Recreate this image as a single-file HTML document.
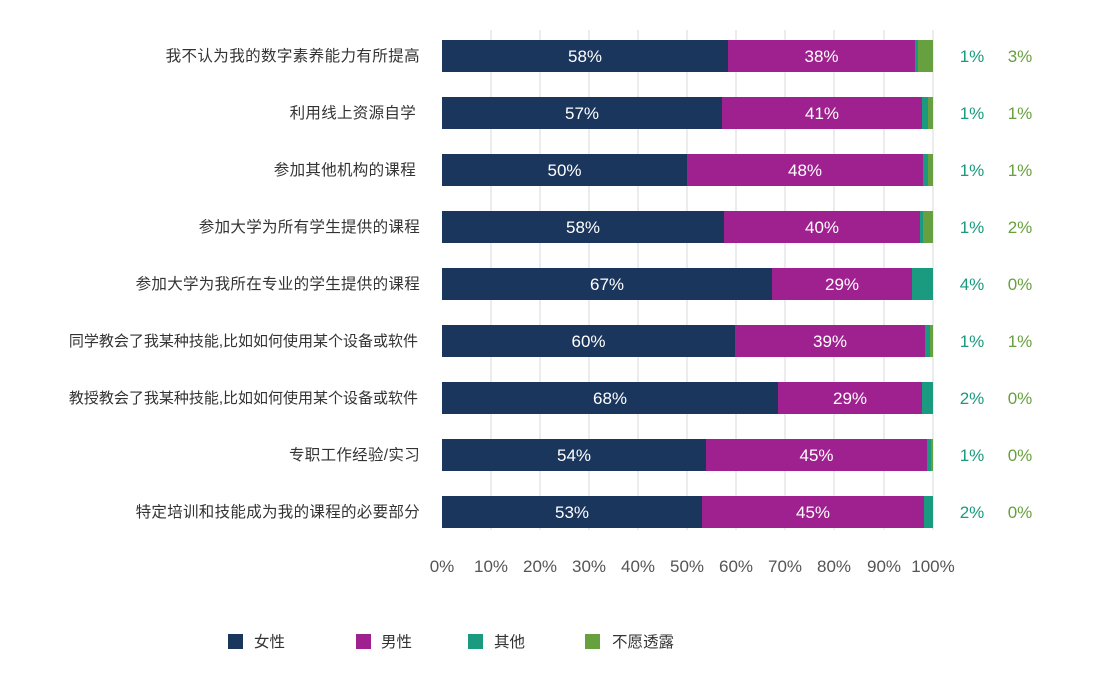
<!DOCTYPE html>
<html><head><meta charset="utf-8"><style>
body{margin:0;background:#fff;width:1097px;height:668px;overflow:hidden;font-family:"Liberation Sans","Noto Sans CJK SC",sans-serif}
svg text{font-family:"Liberation Sans","Noto Sans CJK SC",sans-serif}
</style></head><body>
<svg width="1097" height="668" xmlns="http://www.w3.org/2000/svg">
<g stroke="#d9d9d9" stroke-width="1">
<line x1="491" y1="30" x2="491" y2="530"/><line x1="540" y1="30" x2="540" y2="530"/><line x1="589" y1="30" x2="589" y2="530"/><line x1="638" y1="30" x2="638" y2="530"/><line x1="687" y1="30" x2="687" y2="530"/><line x1="736" y1="30" x2="736" y2="530"/><line x1="785" y1="30" x2="785" y2="530"/><line x1="834" y1="30" x2="834" y2="530"/><line x1="884" y1="30" x2="884" y2="530"/><line x1="933" y1="30" x2="933" y2="530"/>
</g>
<g id="bars"></g>
<g font-size="17" fill="#555" text-anchor="middle">
<text x="442" y="572">0%</text><text x="491" y="572">10%</text><text x="540" y="572">20%</text><text x="589" y="572">30%</text><text x="638" y="572">40%</text><text x="687" y="572">50%</text><text x="736" y="572">60%</text><text x="785" y="572">70%</text><text x="834" y="572">80%</text><text x="884" y="572">90%</text><text x="933" y="572">100%</text>
</g>
<g font-size="15.5" fill="#333">
<rect x="228" y="634" width="15" height="15" fill="#1b365d"/><text x="254" y="647">女性</text>
<rect x="356" y="634" width="15" height="15" fill="#9e218f"/><text x="381" y="647">男性</text>
<rect x="468" y="634" width="15" height="15" fill="#1a9a7e"/><text x="494" y="647">其他</text>
<rect x="585" y="634" width="15" height="15" fill="#67a03e"/><text x="612" y="647">不愿透露</text>
</g>
</svg>
<script>
var rows=[["我不认为我的数字素养能力有所提高",728,915,918,"58%","38%","1%","3%",420,15.5,0.4],
["利用线上资源自学",722,922,928,"57%","41%","1%","1%",416,15.5,0.3],
["参加其他机构的课程",687,923,928,"50%","48%","1%","1%",416,15.5,0.3],
["参加大学为所有学生提供的课程",724,920,923,"58%","40%","1%","2%",420,15.5,0.3],
["参加大学为我所在专业的学生提供的课程",772,912,933,"67%","29%","4%","0%",420,15.5,0.3],
["同学教会了我某种技能,比如如何使用某个设备或软件",735,925,930,"60%","39%","1%","1%",418,15,0],
["教授教会了我某种技能,比如如何使用某个设备或软件",778,922,933,"68%","29%","2%","0%",418,15,0],
["专职工作经验/实习",706,927,931,"54%","45%","1%","0%",420,15.5,0.3],
["特定培训和技能成为我的课程的必要部分",702,924,933,"53%","45%","2%","0%",420,15.5,0.3]];
var s="";
rows.forEach(function(r,i){var y=40+i*57,c=y+16;
s+='<rect x="442" y="'+y+'" width="'+(r[1]-442)+'" height="32" fill="#1b365d"/>';
s+='<rect x="'+r[1]+'" y="'+y+'" width="'+(r[2]-r[1])+'" height="32" fill="#9e218f"/>';
s+='<rect x="'+r[2]+'" y="'+y+'" width="'+(r[3]-r[2])+'" height="32" fill="#1a9a7e"/>';
s+='<rect x="'+r[3]+'" y="'+y+'" width="'+(933-r[3])+'" height="32" fill="#67a03e"/>';
s+='<text x="'+((442+r[1])/2)+'" y="'+(c+6)+'" font-size="17" fill="#fff" text-anchor="middle">'+r[4]+'</text>';
s+='<text x="'+((r[1]+r[2])/2)+'" y="'+(c+6)+'" font-size="17" fill="#fff" text-anchor="middle">'+r[5]+'</text>';
s+='<text x="972" y="'+(c+6)+'" font-size="17" fill="#1a9a7e" text-anchor="middle">'+r[6]+'</text>';
s+='<text x="1020" y="'+(c+6)+'" font-size="17" fill="#67a03e" text-anchor="middle">'+r[7]+'</text>';
s+='<text x="'+r[8]+'" y="'+(c+5)+'" font-size="'+r[9]+'" letter-spacing="'+r[10]+'" fill="#333" text-anchor="end">'+r[0]+'</text>';});
document.getElementById("bars").innerHTML=s;
</script>
</body></html>
